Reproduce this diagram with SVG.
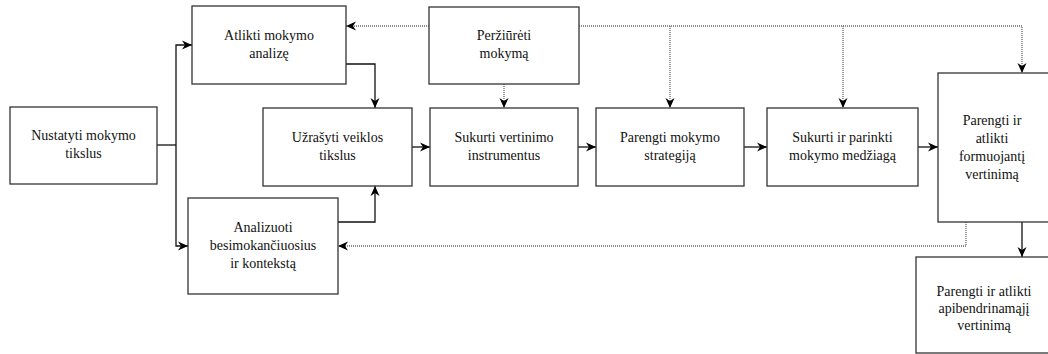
<svg xmlns="http://www.w3.org/2000/svg" width="1048" height="354" viewBox="0 0 1048 354">
<defs>
<marker id="ah" markerUnits="userSpaceOnUse" markerWidth="10" markerHeight="10" refX="10" refY="5" orient="auto">
<path d="M0,0.5 L10,5 L0,9.5 L3,5 z" fill="#000"/>
</marker>
<style>
.box{fill:#fff;stroke:#333;stroke-width:1.3}
.t{font-family:"Liberation Serif","Times New Roman",serif;font-size:14px;fill:#111;text-anchor:middle}
.c{fill:none;stroke:#111;stroke-width:1.3;marker-end:url(#ah)}
.d{fill:none;stroke:#666;stroke-width:1.3;stroke-dasharray:1 1;marker-end:url(#ah)}
.l{fill:none;stroke:#111;stroke-width:1.3}
</style>
</defs>
<rect width="1048" height="354" fill="#fff"/>
<g id="connectors">
<path class="l" d="M157,145 H176"/>
<path class="c" d="M176,145 V45 H192"/>
<path class="c" d="M176,145 V246 H188"/>
<path class="c" d="M346,64 H375 V108"/>
<path class="c" d="M338,222 H375 V186"/>
<path class="c" d="M412,147 H430"/>
<path class="c" d="M578,147 H596"/>
<path class="c" d="M744,147 H767"/>
<path class="c" d="M918,147 H938"/>
<path class="c" d="M1022,222 V257"/>
<path class="d" d="M429,26 H346"/>
<path class="d" d="M579,26 H1022 V73"/>
<path class="d" d="M670,26 V108"/>
<path class="d" d="M843,26 V108"/>
<path class="d" d="M504,84 V108"/>
<path class="d" d="M966,222 V246 H338"/>
</g>
<g id="n1"><rect class="box" x="10" y="107" width="147" height="77"/>
<text class="t" x="83.5" y="140">Nustatyti mokymo</text><text class="t" x="83.5" y="158">tikslus</text></g>
<g id="n2"><rect class="box" x="192" y="6" width="154" height="78"/>
<text class="t" x="269" y="40">Atlikti mokymo</text><text class="t" x="269" y="58">analizę</text></g>
<g id="n3"><rect class="box" x="188" y="198" width="150" height="96"/>
<text class="t" x="263" y="232">Analizuoti</text><text class="t" x="263" y="250">besimokančiuosius</text><text class="t" x="263" y="268">ir kontekstą</text></g>
<g id="n4"><rect class="box" x="263" y="108" width="149" height="78"/>
<text class="t" x="337.5" y="142">Užrašyti veiklos</text><text class="t" x="337.5" y="160">tikslus</text></g>
<g id="n5"><rect class="box" x="429" y="7" width="150" height="77"/>
<text class="t" x="504" y="40">Peržiūrėti</text><text class="t" x="504" y="58">mokymą</text></g>
<g id="n6"><rect class="box" x="430" y="108" width="148" height="78"/>
<text class="t" x="504" y="142">Sukurti vertinimo</text><text class="t" x="504" y="160">instrumentus</text></g>
<g id="n7"><rect class="box" x="596" y="108" width="148" height="78"/>
<text class="t" x="670" y="142">Parengti mokymo</text><text class="t" x="670" y="160">strategiją</text></g>
<g id="n8"><rect class="box" x="767" y="108" width="151" height="78"/>
<text class="t" x="842.5" y="142">Sukurti ir parinkti</text><text class="t" x="842.5" y="160">mokymo medžiagą</text></g>
<g id="n9"><rect class="box" x="938" y="73" width="112" height="149"/>
<text class="t" x="992" y="125">Parengti ir</text><text class="t" x="992" y="143">atlikti</text><text class="t" x="992" y="161">formuojantį</text><text class="t" x="992" y="179">vertinimą</text></g>
<g id="n10"><rect class="box" x="916" y="257" width="136" height="96"/>
<text class="t" x="984" y="296">Parengti ir atlikti</text><text class="t" x="984" y="313">apibendrinamąjį</text><text class="t" x="984" y="330">vertinimą</text></g>
</svg>
